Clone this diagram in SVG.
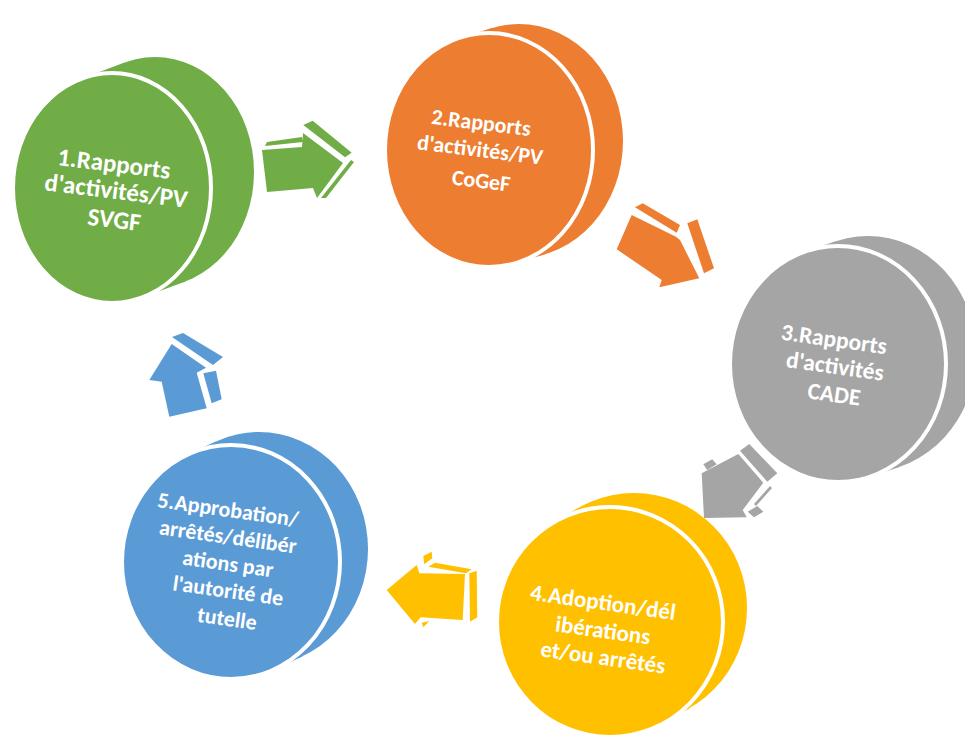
<svg xmlns="http://www.w3.org/2000/svg" width="965" height="737" viewBox="0 0 965 737">
<style>
.g{fill:#70AD47}.o{fill:#ED7D31}.s{fill:#A5A5A5}.y{fill:#FFC000}.b{fill:#5B9BD5}
.face{stroke:#FFFFFF;stroke-width:4}
.t{fill:#FFFFFF;font-family:Carlito,"Liberation Sans",Arial,sans-serif;font-weight:bold;font-size:22px;text-anchor:middle}
</style>
<rect width="965" height="737" fill="#FFFFFF"/>
<g id="connectors">
  <g id="arrow-1-2" class="g">
    <polygon points="267,142 302,137 303,142 265,146"/>
    <polygon points="303.3,125 312.7,120.7 351.7,152.7 345,157.3"/>
    <polygon points="262,150 302,147 303,133 343,163 317,198 313,188 267,192"/>
    <polygon points="351,160 354,162 326,198 321,198"/>
  </g>
  <g id="arrow-2-3" class="o">
    <polygon points="635,207.3 642.7,203.3 680,225 676.7,232.7"/>
    <polygon points="687.3,223.3 697.3,219.3 714,268.3 704,273.3"/>
    <polygon points="631.7,215 676,236.7 680,240 699.3,278.3 659.3,287.3 661.7,280 616.7,249.3"/>
  </g>
  <g id="arrow-3-4" class="s">
    <polygon points="703.3,464.3 712.3,459.3 716.7,464.3 707.3,470"/>
    <polygon points="740,450.7 749.3,444 777.3,473.3 767.3,481.7"/>
    <polygon points="701.7,473.3 738.3,454 763.3,482.7 742.7,510 746.7,517.3 704,518"/>
    <polygon points="747.7,511.7 757.3,506 763.3,511.7 754,517.3"/>
    <polygon points="770,486 772,488 756,506 754,504"/>
  </g>
  <g id="arrow-4-5" class="y">
    <polygon points="423.3,556 431.7,551.7 432.3,558.3 424.3,564.3"/>
    <polygon points="428.3,566.7 435,562.7 471.7,569.3 466,573.3"/>
    <polygon points="469.3,573.3 476.7,570.7 477.3,617.3 470,621.7"/>
    <polygon points="386.7,590 416.7,565 419.3,573.3 465,574 462.7,620 420.7,617.3 415,624"/>
    <polygon points="421.7,622.7 429.3,621 423.3,627.3"/>
  </g>
  <g id="arrow-5-1" class="b">
    <polygon points="172,337 183,333 223,357 213,365"/>
    <polygon points="203.3,373.3 216,370.7 221.7,399.3 211.7,403.3"/>
    <polygon points="149.3,380 171.7,344 206,367.7 196.7,372.7 206.7,408.3 169.3,416.7 161.7,381.7"/>
  </g>
</g>
<g id="node-1" class="g">
  <ellipse cx="155" cy="172" rx="99" ry="115"/>
  <polygon points="142.3,297.5 185.3,281.5 124.7,62.5 81.7,78.5"/>
  <ellipse class="face" cx="112" cy="188" rx="99" ry="115"/>
  <g class="t" style="font-size:25px">
    <text x="114" y="172" transform="rotate(7 114 165)">1.Rapports</text>
    <text x="116" y="199" transform="rotate(7 116 192)">d'activités/PV</text>
    <text x="114" y="228" transform="rotate(7 114 221)">SVGF</text>
  </g>
</g>
<g id="node-2" class="o">
  <ellipse cx="519" cy="141" rx="104" ry="117"/>
  <polygon points="515.8,263 545.8,254 492.2,28 462.2,37"/>
  <ellipse class="face" cx="489" cy="150" rx="104" ry="117"/>
  <g class="t">
    <text x="481" y="130" transform="rotate(7 481 124)">2.Rapports</text>
    <text x="480" y="157" transform="rotate(7 480 151)">d'activités/PV</text>
    <text x="481" y="188" transform="rotate(7 481 182)">CoGeF</text>
  </g>
</g>
<g id="node-3" class="s">
  <ellipse cx="868" cy="354" rx="108" ry="118"/>
  <polygon points="869.5,476.9 899.5,466.9 836.5,241.1 806.5,251.1"/>
  <ellipse class="face" cx="838" cy="364" rx="108" ry="118"/>
  <g class="t" style="font-size:23.5px">
    <text x="834" y="347" transform="rotate(8 834 340)">3.Rapports</text>
    <text x="835" y="374" transform="rotate(8 835 367)">d'activités</text>
    <text x="834" y="402" transform="rotate(8 834 395)">CADE</text>
  </g>
</g>
<g id="node-4" class="y">
  <ellipse cx="634" cy="608" rx="113" ry="115"/>
  <polygon points="666.2,721.8 690.2,707.8 577.8,508.2 553.8,522.2"/>
  <ellipse class="face" cx="610" cy="622" rx="113" ry="115"/>
  <g class="t" style="font-size:23px">
    <text x="603" y="610" transform="rotate(8 603 603)">4.Adoption/dél</text>
    <text x="603" y="638" transform="rotate(8 603 631)">ibérations</text>
    <text x="603" y="665" transform="rotate(8 603 658)">et/ou arrêtés</text>
  </g>
</g>
<g id="node-5" class="b">
  <ellipse cx="259" cy="549" rx="109" ry="117"/>
  <polygon points="274.3,669.4 302.3,656.4 215.7,441.6 187.7,454.6"/>
  <ellipse class="face" cx="231" cy="562" rx="109" ry="117"/>
  <g class="t">
    <text x="228" y="517" transform="rotate(8 228 510)">5.Approbation/</text>
    <text x="228" y="544" transform="rotate(8 228 537)">arrêtés/délibér</text>
    <text x="228" y="571" transform="rotate(8 228 564)">ations par</text>
    <text x="228" y="598" transform="rotate(8 228 591)">l'autorité de</text>
    <text x="227" y="626" transform="rotate(8 227 619)">tutelle</text>
  </g>
</g>
</svg>
